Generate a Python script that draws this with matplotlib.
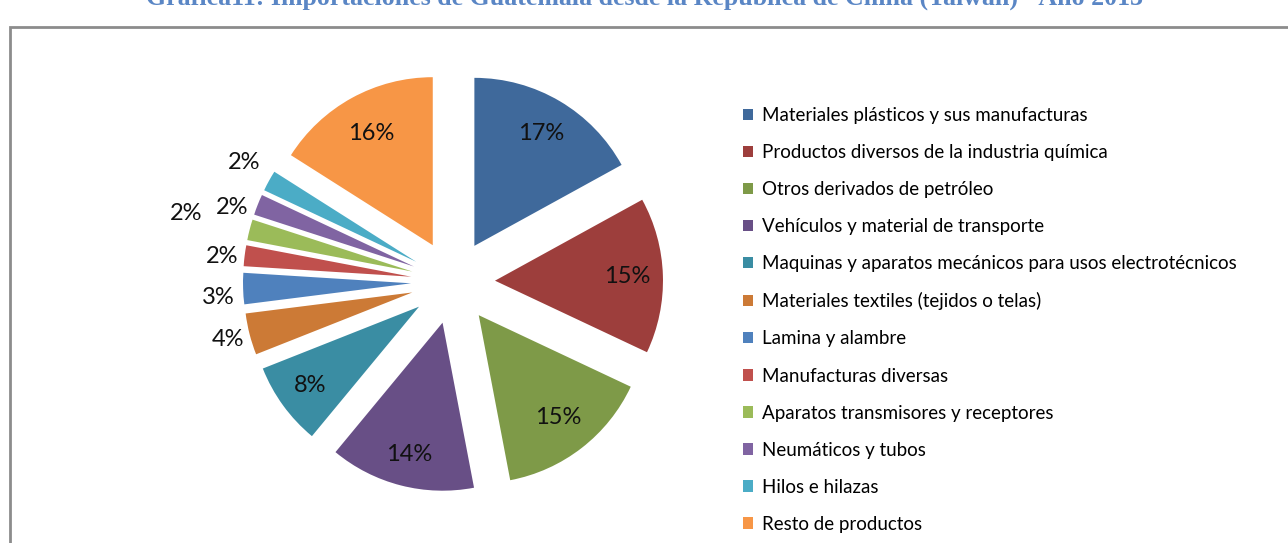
import matplotlib
matplotlib.use("Agg")
import matplotlib.pyplot as plt
import numpy as np
from matplotlib.patches import Rectangle

categories = [
    "Materiales plásticos y sus manufacturas",
    "Productos diversos de la industria química",
    "Otros derivados de petróleo",
    "Vehículos y material de transporte",
    "Maquinas y aparatos mecánicos para usos electrotécnicos",
    "Materiales textiles (tejidos o telas)",
    "Lamina y alambre",
    "Manufacturas diversas",
    "Aparatos transmisores y receptores",
    "Neumáticos y tubos",
    "Hilos e hilazas",
    "Resto de productos",
]
values = [17, 15, 15, 14, 8, 4, 3, 2, 2, 2, 2, 16]
colors = ["#3F699B", "#9D3E3C", "#7E9A48", "#684F86", "#3A8DA3", "#CC7A36",
          "#4F81BD", "#C0504D", "#9BBB59", "#8064A2", "#4BACC6", "#F79646"]
title = "Gráfica11: Importaciones de Guatemala desde la República de China (Taiwán) - Año 2013"

W, H = 1288, 543
fig = plt.figure(figsize=(W / 100, H / 100), dpi=100)
fig.patch.set_facecolor("white")

# border frame (only left and top visible)
fig.patches.append(Rectangle((10 / W, -0.05), 1.1, (H - 27) / H + 0.05,
                             transform=fig.transFigure, fill=False,
                             edgecolor="#8C8C8C", linewidth=2, zorder=0))

# clipped title at the very top
fig.text(0.5, 1 - 5 / H, title, ha="center", va="baseline",
         fontsize=18.6, fontweight="bold", family="Liberation Serif", color="#5A86C5")

# pie axes: center (453, 282) px, radius 168 px
cx, cy, R = 453, 282, 168
L = 1.6
S = 2 * L * R
ax = fig.add_axes([(cx - S / 2) / W, (H - cy - S / 2) / H, S / W, S / H])

explode = [0.25] * len(values)
wedges, _ = ax.pie(values, colors=colors, startangle=90, counterclock=False,
                   explode=explode, radius=1.0,
                   wedgeprops=dict(linewidth=0))
ax.set_xlim(-L, L)
ax.set_ylim(-L, L)
ax.set_aspect("equal")
ax.axis("off")

# label radial distance (from pie center) and angular nudges
label_r = [1.03, 1.04, 1.02, 1.06, 1.05, 1.38, 1.40, 1.38, 1.64, 1.39, 1.43, 1.01]
label_dang = [0, 0, 0, 0, 0, 0, 2, 1, 0, 3, -1, 0]
total = sum(values)
for w, v, r, da in zip(wedges, values, label_r, label_dang):
    ang = np.deg2rad((w.theta1 + w.theta2) / 2 + da)
    ax.text(r * np.cos(ang), r * np.sin(ang), f"{round(100 * v / total)}%",
            ha="center", va="center", fontsize=17, family="Lato", color="#111111")

handles = [Rectangle((0, 0), 1, 1, facecolor=c, edgecolor="none") for c in colors]
fig.legend(handles, categories, loc="upper left",
           bbox_to_anchor=(743 / W, 1 - 107 / H), frameon=False,
           prop=dict(family="Lato", size=13.5), labelspacing=1.07,
           handlelength=0.55, handleheight=0.55, handletextpad=0.45,
           borderaxespad=0, borderpad=0)

fig.savefig("out.png", dpi=100)
